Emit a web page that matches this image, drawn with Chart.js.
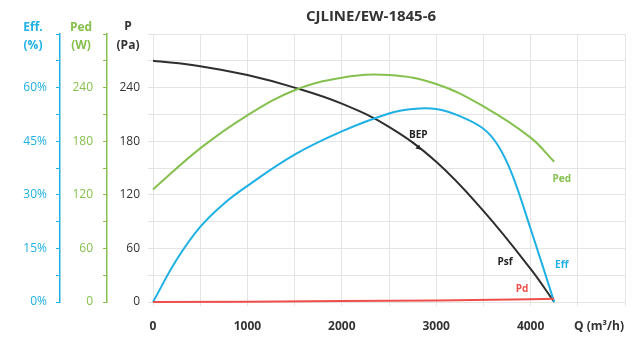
<!DOCTYPE html>
<html><head><meta charset="utf-8">
<script src="https://cdn.jsdelivr.net/npm/chart.js@4/dist/chart.umd.min.js"></script>
<style>html,body{margin:0;padding:0;background:#fff}#wrap{width:638px;height:340px;position:relative}</style>
</head><body><div id="wrap"><canvas id="c"></canvas></div>
<script>
// ---- data ----
const flowPsf = [0,500,1000,1500,2000,2500,3000,3500,4000,4250];
const psf     = [270,264,254,240,222,196,157,102,37,0];
const flowPed = [0,500,1000,1500,2000,2500,3000,3500,4000,4250];
const ped     = [126,172,209,237,251,254,244,219,184,157];
const flowEff = [0,250,500,750,1000,1500,2000,2500,2750,3000,3250,3500,3650,3800,4000,4250];
const eff     = [0,11.8,21,27.5,32.5,41.25,47.75,52.75,54,54,52,48.5,44,36,20.5,0];
const flowPd  = [0,1000,2000,3000,4000,4250];
const pd      = [0,0.3,1,1.8,3,3.5];
const xTickLabels   = [0,1000,2000,3000,4000];
const pTickLabels   = [0,60,120,180,240];
const pedTickLabels = [0,60,120,180,240];
const effTickLabels = [0,15,30,45,60];
const bep = {q:2800, p:173};

const BLUE = '#1fb0e4', GREEN = '#86c04f', BLACK = '#2e2e2e', RED = '#ef4e4a', GRID = '#e4e4e4';
const zip = (xs, ys) => xs.map((x,i)=>({x, y: ys[i]}));
const has = (arr, v) => arr.some(a => Math.abs(a - v) < 1e-6);

Chart.defaults.font.family = "'Open Sans', sans-serif";

const overlay = {
  id: 'overlay',
  afterDraw(chart) {
    const {ctx, scales:{x, y}} = chart;
    ctx.save();
    ctx.textAlign = 'center'; ctx.textBaseline = 'middle';
    ctx.fillStyle = '#333';
    ctx.font = 'bold 15px "Open Sans"';
    ctx.fillText('CJLINE/EW-1845-6', 371, 17);
    ctx.font = 'bold 12px "Open Sans"';
    ctx.fillStyle = BLUE;  ctx.fillText('Eff.', 33, 28);  ctx.fillText('(%)', 33, 46);
    ctx.fillStyle = GREEN; ctx.fillText('Ped', 81, 28);   ctx.fillText('(W)', 81, 46);
    ctx.fillStyle = '#333'; ctx.fillText('P', 128, 27);   ctx.fillText('(Pa)', 128, 46);
    ctx.textAlign = 'left';
    ctx.fillText('Q (m³/h)', 574, 327);
    // curve labels
    ctx.font = 'bold 10px "Open Sans"'; ctx.textAlign = 'center';
    ctx.fillStyle = GREEN; ctx.fillText('Ped', x.getPixelForValue(4330), y.getPixelForValue(137));
    ctx.fillStyle = BLUE;  ctx.fillText('Eff', x.getPixelForValue(4330), y.getPixelForValue(41));
    ctx.fillStyle = '#222'; ctx.fillText('Psf', x.getPixelForValue(3730), y.getPixelForValue(45));
    ctx.fillStyle = RED;   ctx.fillText('Pd', x.getPixelForValue(3910), y.getPixelForValue(14));
    // BEP marker
    const bx = x.getPixelForValue(bep.q), by = y.getPixelForValue(bep.p);
    ctx.fillStyle = '#222';
    ctx.fillText('BEP', bx + 1, by - 12);
    ctx.strokeStyle = '#222'; ctx.lineWidth = 1;
    ctx.beginPath(); ctx.moveTo(bx - 5, by - 6); ctx.lineTo(bx + 3, by + 2); ctx.stroke();
    ctx.beginPath(); ctx.moveTo(bx + 3, by + 2); ctx.lineTo(bx - 2, by + 1); ctx.lineTo(bx + 2, by - 3); ctx.closePath(); ctx.fill();
    ctx.restore();
  }
};

new Chart(document.getElementById('c'), {
  type: 'line',
  data: {
    datasets: [
      {label:'Pd', data: zip(flowPd, pd), yAxisID:'y', borderColor: RED, borderWidth: 2, pointRadius:0, tension:0, clip:false},
      {label:'Ped', data: zip(flowPed, ped), yAxisID:'ped', borderColor: GREEN, borderWidth: 2, pointRadius:0, tension:0.4, clip:false},
      {label:'Eff', data: zip(flowEff, eff), yAxisID:'eff', borderColor: BLUE, borderWidth: 2, pointRadius:0, tension:0.4, clip:false},
      {label:'Psf', data: zip(flowPsf, psf), yAxisID:'y', borderColor: BLACK, borderWidth: 2, pointRadius:0, tension:0.4, clip:false}
    ]
  },
  options: {
    responsive: true, maintainAspectRatio: false, animation: false,
    layout: {padding: {left:0, top:34, right:13, bottom:0}},
    plugins: {legend:{display:false}, tooltip:{enabled:false}, title:{display:false}},
    scales: {
      x: {
        type:'linear', min:0, max:5000,
        ticks:{stepSize:500, autoSkip:false, maxRotation:0, padding:13, color:'#333', font:{size:12, weight:'bold'},
               callback: v => has(xTickLabels, v) ? String(v) : ''},
        grid:{color:GRID, tickLength:4, tickColor:GRID},
        border:{color:GRID},
        afterFit(s){ s.height = 38; }
      },
      y: {
        position:'left', weight:0, min:0, max:300,
        ticks:{stepSize:30, autoSkip:false, padding:8, color:'#333', font:{size:12},
               callback: v => has(pTickLabels, v) ? String(v) : ''},
        grid:{color:GRID, tickLength:5, tickColor:GRID},
        border:{color:GRID},
        afterFit(s){ s.width = 46; }
      },
      ped: {
        position:'left', weight:1, min:0, max:300,
        ticks:{stepSize:30, autoSkip:false, padding:10, color:GREEN, font:{size:12},
               callback: v => has(pedTickLabels, v) ? String(v) : ''},
        grid:{drawOnChartArea:false, color:GREEN, tickColor:GREEN, tickLength:4},
        border:{color:GREEN, width:1.5},
        afterFit(s){ s.width = 47; }
      },
      eff: {
        position:'left', weight:2, min:0, max:75,
        ticks:{stepSize:7.5, autoSkip:false, padding:9, color:BLUE, font:{size:12},
               callback: v => has(effTickLabels, v) ? v + '%' : ''},
        grid:{drawOnChartArea:false, color:BLUE, tickColor:BLUE, tickLength:4},
        border:{color:BLUE, width:1.5},
        afterFit(s){ s.width = 60; }
      }
    }
  },
  plugins: [overlay]
});
</script>
</body></html>
